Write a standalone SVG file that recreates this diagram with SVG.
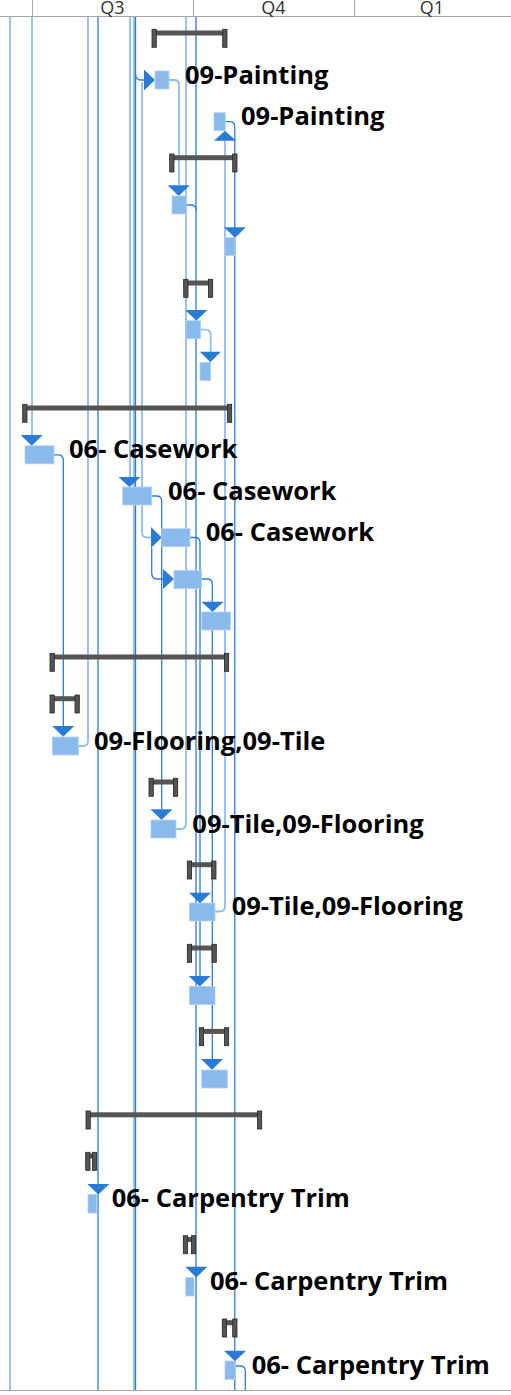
<svg xmlns="http://www.w3.org/2000/svg" width="511" height="1395" viewBox="0 0 511 1395">
<style>
.hdr{font-family:"Open Sans","Liberation Sans",sans-serif;font-size:18px;fill:#333}
.grid{stroke:#a6a6a6;stroke-width:1;fill:none}
.lt{stroke:#8fbdee;stroke-width:1.8;fill:none}
.dk{stroke:#2b7cd6;stroke-width:1.3;fill:none}
.bar{fill:#8ab9ec;stroke:#b3d2f4;stroke-width:0.8}
.arr{fill:#2a7bd6}
.sb{fill:#555}
.cap{fill:#555;stroke:#262626;stroke-width:0.8}
.lbl{font-family:"Open Sans","Liberation Sans",sans-serif;font-size:25.5px;font-weight:700;fill:#000}
</style>
<rect width="511" height="1395" fill="#fff"/>
<g id="header">
<line class="grid" x1="0" y1="16.5" x2="511" y2="16.5"/>
<line class="grid" x1="32.5" y1="0" x2="32.5" y2="16"/>
<line class="grid" x1="193.5" y1="0" x2="193.5" y2="16"/>
<line class="grid" x1="354.5" y1="0" x2="354.5" y2="16"/>
<text class="hdr" x="112.5" y="13.8" text-anchor="middle">Q3</text>
<text class="hdr" x="273.5" y="13.8" text-anchor="middle">Q4</text>
<text class="hdr" x="432" y="13.8" text-anchor="middle">Q1</text>
<line class="grid" x1="0" y1="1390.5" x2="511" y2="1390.5"/>
</g>
<g id="connectors">
<path class="lt" d="M10,17V1390"/>
<path class="lt" d="M32,17V435"/>
<path class="dk" d="M54,454.8H58Q63.3,454.8 63.3,460V726"/>
<path class="lt" d="M88,17V741Q88,746 83,746H78.3"/>
<path class="dk" d="M98,17V1390"/>
<path class="lt" d="M130,17V477"/>
<path class="lt" d="M134,17V1390"/>
<path class="dk" d="M135.5,17V1390"/>
<path class="dk" d="M135.5,74Q135.5,80 141,80H144"/>
<path class="lt" d="M142,82V532Q142,537.5 147,537.5H151"/>
<path class="dk" d="M151.7,548V573Q151.7,579 157,579H163"/>
<path class="dk" d="M151.7,496H156.5Q161.7,496 161.7,501V809"/>
<path class="lt" d="M169,80H174Q179,80 179,85V185"/>
<path class="lt" d="M186,17V823Q186,829 181,829H176"/>
<path class="dk" d="M196,17V1390"/>
<path class="dk" d="M186.7,205H191Q196,205 196,210"/>
<path class="lt" d="M200.7,329.6H205.5Q210.7,329.6 210.7,335V351.7"/>
<path class="dk" d="M190,537.5H195Q200,537.5 200,542.5V976"/>
<path class="dk" d="M201.7,579H207Q212.3,579 212.3,584V1059"/>
<path class="lt" d="M225,140.7V906Q225,911.5 220,911.5H215"/>
<path class="dk" d="M225.3,121.7H229.5Q234.8,121.7 234.8,127V1390"/>
<path class="dk" d="M235.3,1366H240Q245.3,1366 245.3,1371V1390"/>
</g>
<g id="s0"><rect class="sb" x="152" y="30.5" width="75" height="5"/><rect class="cap" x="152" y="29.3" width="4.3" height="18"/><rect class="cap" x="222.7" y="29.3" width="4.3" height="18"/></g>
<g id="t1"><path class="arr" d="M144,69.5L155,80L144,90.5Z"/><rect class="bar" x="155" y="71" width="14" height="18"/><text class="lbl" x="185" y="83.5">09-Painting</text></g>
<g id="t2"><rect class="bar" x="214" y="112.7" width="11.3" height="18"/><path class="arr" d="M214,140.7L225,130.7L236,140.7Z"/><text class="lbl" x="241" y="125.2">09-Painting</text></g>
<g id="s3"><rect class="sb" x="169.7" y="155.2" width="67.3" height="5"/><rect class="cap" x="169.7" y="154" width="4.3" height="18"/><rect class="cap" x="232.7" y="154" width="4.3" height="18"/></g>
<g id="t4"><path class="arr" d="M167.7,185.3H189.7L178.7,196Z"/><rect class="bar" x="172" y="196" width="14.7" height="18"/></g>
<g id="t5"><path class="arr" d="M224,227.3H246L235,237.8Z"/><rect class="bar" x="225" y="237.5" width="10" height="18"/></g>
<g id="s6"><rect class="sb" x="183.7" y="280.5" width="29" height="5"/><rect class="cap" x="183.7" y="279.3" width="4.3" height="18"/><rect class="cap" x="208.4" y="279.3" width="4.3" height="18"/></g>
<g id="t7"><path class="arr" d="M185.3,310H207.3L196.3,320.7Z"/><rect class="bar" x="186" y="320.7" width="14.7" height="18"/></g>
<g id="t8"><path class="arr" d="M199.8,351.7H220.8L210.3,362.3Z"/><rect class="bar" x="200" y="362.5" width="10.7" height="18"/></g>
<g id="s9"><rect class="sb" x="22.7" y="405.5" width="209" height="5"/><rect class="cap" x="22.7" y="404.3" width="4.3" height="18"/><rect class="cap" x="227.4" y="404.3" width="4.3" height="18"/></g>
<g id="t10"><path class="arr" d="M20.7,435H42.7L31.7,445.7Z"/><rect class="bar" x="25" y="445.8" width="29" height="18"/><text class="lbl" x="69" y="458.3">06- Casework</text></g>
<g id="t11"><path class="arr" d="M118.5,477H140.5L129.5,487.3Z"/><rect class="bar" x="122.7" y="487" width="29" height="18"/><text class="lbl" x="168" y="499.5">06- Casework</text></g>
<g id="t12"><path class="arr" d="M151,527L161.7,537.5L151,548Z"/><rect class="bar" x="161.7" y="528.7" width="28.3" height="18"/><text class="lbl" x="205.7" y="541">06- Casework</text></g>
<g id="t13"><path class="arr" d="M163,569L174,579L163,589Z"/><rect class="bar" x="174" y="570.5" width="27.7" height="18"/></g>
<g id="t14"><path class="arr" d="M201.5,601.7H223.5L212.5,612Z"/><rect class="bar" x="201.7" y="612" width="29" height="18"/></g>
<g id="s15"><rect class="sb" x="50" y="654.5" width="178.7" height="5"/><rect class="cap" x="50" y="653.3" width="4.3" height="18"/><rect class="cap" x="224.4" y="653.3" width="4.3" height="18"/></g>
<g id="s16"><rect class="sb" x="50" y="696.2" width="29.3" height="5"/><rect class="cap" x="50" y="695" width="4.3" height="18"/><rect class="cap" x="75" y="695" width="4.3" height="18"/></g>
<g id="t17"><path class="arr" d="M52.2,726H74.2L63.2,736.7Z"/><rect class="bar" x="52.3" y="737" width="26" height="18"/><text class="lbl" x="94" y="749.5">09-Flooring,09-Tile</text></g>
<g id="s18"><rect class="sb" x="149" y="779.5" width="28.7" height="5"/><rect class="cap" x="149" y="778.3" width="4.3" height="18"/><rect class="cap" x="173.4" y="778.3" width="4.3" height="18"/></g>
<g id="t19"><path class="arr" d="M150.5,809.3H172.5L161.5,820Z"/><rect class="bar" x="151" y="820" width="25" height="18"/><text class="lbl" x="192.3" y="832.5">09-Tile,09-Flooring</text></g>
<g id="s20"><rect class="sb" x="187.3" y="862.2" width="28.7" height="5"/><rect class="cap" x="187.3" y="861" width="4.3" height="18"/><rect class="cap" x="211.7" y="861" width="4.3" height="18"/></g>
<g id="t21"><path class="arr" d="M189,892.7H211L200,903.3Z"/><rect class="bar" x="189.3" y="903" width="25.7" height="18"/><text class="lbl" x="231.7" y="915.3">09-Tile,09-Flooring</text></g>
<g id="s22"><rect class="sb" x="187.3" y="945.5" width="29" height="5"/><rect class="cap" x="187.3" y="944.3" width="4.3" height="18"/><rect class="cap" x="212" y="944.3" width="4.3" height="18"/></g>
<g id="t23"><path class="arr" d="M188.7,976H210.7L199.7,986.5Z"/><rect class="bar" x="189.3" y="986.5" width="25.7" height="18"/></g>
<g id="s24"><rect class="sb" x="199.3" y="1028.9" width="29.4" height="5"/><rect class="cap" x="199.3" y="1027.7" width="4.3" height="18"/><rect class="cap" x="224.4" y="1027.7" width="4.3" height="18"/></g>
<g id="t25"><path class="arr" d="M201,1059H223L212,1069.8Z"/><rect class="bar" x="201.7" y="1070" width="25.6" height="18"/></g>
<g id="s26"><rect class="sb" x="86" y="1112.3" width="175.7" height="5"/><rect class="cap" x="86" y="1111" width="4.3" height="18"/><rect class="cap" x="257.4" y="1111" width="4.3" height="18"/></g>
<g id="s27"><rect class="sb" x="85.7" y="1153.5" width="11" height="5"/><rect class="cap" x="85.7" y="1152.3" width="4.3" height="18"/><rect class="cap" x="92.4" y="1152.3" width="4.3" height="18"/></g>
<g id="t28"><path class="arr" d="M87.3,1184H109.3L98.3,1194.5Z"/><rect class="bar" x="88" y="1194.5" width="8.7" height="18.5"/><text class="lbl" x="111.7" y="1207.3">06- Carpentry Trim</text></g>
<g id="s29"><rect class="sb" x="183.3" y="1236.9" width="12.4" height="5"/><rect class="cap" x="183.3" y="1235.7" width="4.3" height="18"/><rect class="cap" x="191.4" y="1235.7" width="4.3" height="18"/></g>
<g id="t30"><path class="arr" d="M185.3,1266.7H207.3L196.3,1277.5Z"/><rect class="bar" x="185.7" y="1277.7" width="8.3" height="18.3"/><text class="lbl" x="210" y="1290.3">06- Carpentry Trim</text></g>
<g id="s31"><rect class="sb" x="222.3" y="1320.2" width="14.7" height="5"/><rect class="cap" x="222.3" y="1319" width="4.3" height="18"/><rect class="cap" x="232.7" y="1319" width="4.3" height="18"/></g>
<g id="t32"><path class="arr" d="M224,1350.7H246L235,1361.2Z"/><rect class="bar" x="225" y="1361" width="10.3" height="18.3"/><text class="lbl" x="251.7" y="1373.7">06- Carpentry Trim</text></g>
</svg>
